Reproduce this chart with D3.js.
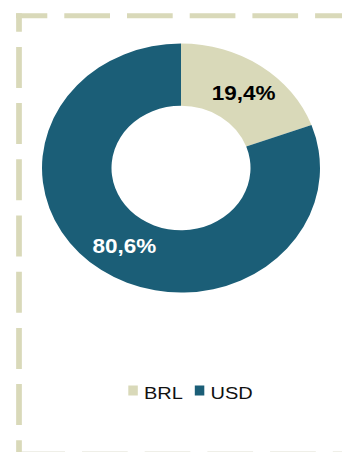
<!DOCTYPE html>
<html>
<head>
<meta charset="utf-8">
<script src="https://cdn.jsdelivr.net/npm/d3@7"></script>
<style>
  body { margin: 0; background: #fff; }
  svg { display: block; }
</style>
</head>
<body>
<script>
(function () {

    var w = 342;
    var h = 452;

    var categories = ["BRL", "USD"];
    var values = [19.4, 80.6];
    var labels = ["19,4%", "80,6%"];
    var colors = ["#d9d9b9", "#1b5e77"];
    var labelColors = ["#000000", "#ffffff"];

    var cx = 181, cy = 168;
    var rOuter = 139, rInner = 69.5;
    var sy = 0.896; // chart is squashed vertically

    var svg = d3.select("body").append("svg")
        .attr("width", w)
        .attr("height", h);

    // dashed frame
    var frameColor = "#d9d9b9";
    svg.append("line")
        .attr("x1", 16).attr("x2", 360)
        .attr("y1", 15.8).attr("y2", 15.8)
        .attr("stroke", frameColor)
        .attr("stroke-width", 5)
        .attr("stroke-dasharray", "45.7 17")
        .attr("stroke-dashoffset", 14.4);
    svg.append("line")
        .attr("x1", 19).attr("x2", 19)
        .attr("y1", 13.3).attr("y2", 470)
        .attr("stroke", frameColor)
        .attr("stroke-width", 5.7)
        .attr("stroke-dasharray", "41 15.2")
        .attr("stroke-dashoffset", 22.6);
    svg.append("line")
        .attr("x1", 22).attr("x2", 360)
        .attr("y1", 451.5).attr("y2", 451.5)
        .attr("stroke", "#efefe8")
        .attr("stroke-width", 1)
        .attr("stroke-dasharray", "45.7 17")
        .attr("stroke-dashoffset", 2.7);

    var pie = d3.pie().sort(null).value(function (d) { return d; });
    var arc = d3.arc().innerRadius(rInner).outerRadius(rOuter);
    var arcs = pie(values);

    var g = svg.append("g")
        .attr("transform", "translate(" + cx + "," + cy + ") scale(1," + sy + ")");

    g.selectAll("path")
        .data(arcs)
        .enter()
        .append("path")
        .attr("d", arc)
        .attr("fill", function (d, i) { return colors[i]; });

    // slice labels
    svg.selectAll("text.lbl")
        .data(arcs)
        .enter()
        .append("text")
        .attr("class", "lbl")
        .attr("transform", function (d) {
            var c = arc.centroid(d);
            return "translate(" + (cx + c[0] + 3) + "," + (cy + c[1] * sy + 8.3) + ") scale(1,0.87)";
        })
        .attr("text-anchor", "middle")
        .attr("font-family", "'Liberation Sans', Arial, sans-serif")
        .attr("font-size", 22.5)
        .attr("font-weight", "bold")
        .attr("fill", function (d, i) { return labelColors[i]; })
        .text(function (d, i) { return labels[i]; });

    // legend
    var legendX = [128.3, 194.8];
    var leg = svg.selectAll("g.leg")
        .data(categories)
        .enter()
        .append("g")
        .attr("class", "leg")
        .attr("transform", function (d, i) { return "translate(" + legendX[i] + ",0)"; });

    leg.append("rect")
        .attr("x", 0).attr("y", 385.5)
        .attr("width", 9.5).attr("height", 10)
        .attr("fill", function (d, i) { return colors[i]; });

    leg.append("text")
        .attr("transform", "translate(15.7,399) scale(1,0.87)")
        .attr("font-family", "'Liberation Sans', Arial, sans-serif")
        .attr("font-size", 20)
        .attr("fill", "#111")
        .text(function (d) { return d; });
})();
</script>
</body>
</html>
